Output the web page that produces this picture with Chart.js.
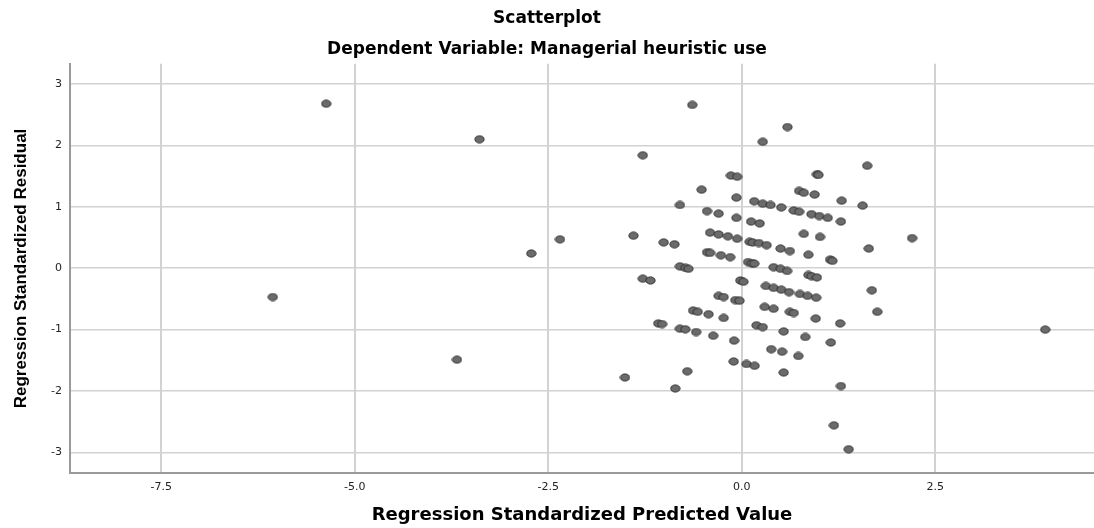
<!DOCTYPE html>
<html>
<head>
<meta charset="utf-8">
<script src="https://cdn.jsdelivr.net/npm/chart.js@4"></script>
<style>
html, body { margin: 0; padding: 0; background: #fff; }
#wrap { width: 1094px; height: 528px; }
</style>
</head>
<body>
<div id="wrap"><canvas id="scatter" width="1094" height="528"></canvas></div>
<script>
// SCATTERPLOT - standardized predicted vs residual

// x = Regression Standardized Predicted Value
const predicted = [
-6.06, -5.37, -3.68, -3.39, -2.72, -2.35, 3.92, 2.20,
-0.64, 0.59, 0.27, -1.28, -0.14, -0.06, 0.97, 0.99, -0.52, 0.74, 0.80, 0.94,
-0.07, 1.29, -0.80, 0.16, 0.27, 0.37, 0.51, 0.67, 0.74, 0.90, 1.00, 1.11,
1.28, -0.45, -0.30, -0.07, 0.12, 0.23, 0.80, 1.01, -1.40, -1.01, -0.87, -0.41,
-0.30, -0.18, -0.06, 0.10, 0.14, 0.22, 0.32, 0.50, 0.62, 0.86, 1.14, 1.17,
-0.45, -0.41, -0.27, -0.15,
-0.80, -0.73, -0.69, 0.08, 0.13, 0.16, 0.41, 0.50, 0.585, 0.86, 0.90, 0.97,
-1.28, -1.18, -0.02, 0.02, 0.31, 0.41, 0.51, 0.61, 0.75, 0.85, 0.96, -0.30,
-0.235, -0.085, -0.03, 0.295, 0.41, 0.62, 0.67, 0.955, 1.27, -0.63, -0.57, -0.43,
-0.235, -1.08, -1.03, -0.80, -0.73, -0.59, -0.37, -0.10, 0.19, 0.27, 0.54, 0.82,
1.15, 0.38, 0.52, 0.73, -0.106, 0.06, 0.165, 0.54, -0.705, -1.51, -0.86, 1.28,
1.19, 1.38,
1.62, 1.56, 1.64, 1.68, 1.75
];

// y = Regression Standardized Residual
const residual = [
-0.47, 2.68, -1.49, 2.10, 0.24, 0.47, -1.00, 0.49,
2.66, 2.30, 2.06, 1.84, 1.51, 1.49, 1.53, 1.52, 1.28, 1.26, 1.23, 1.20,
1.15, 1.10, 1.03, 1.09, 1.05, 1.03, 0.99, 0.94, 0.92, 0.88, 0.85, 0.82,
0.76, 0.93, 0.89, 0.82, 0.76, 0.73, 0.56, 0.51, 0.53, 0.42, 0.39, 0.58,
0.55, 0.52, 0.48, 0.43, 0.42, 0.41, 0.375, 0.32, 0.28, 0.22, 0.14, 0.12,
0.26, 0.25, 0.21, 0.18,
0.03, 0.005, -0.01, 0.10, 0.08, 0.075, 0.016, -0.01, -0.045, -0.11, -0.13, -0.15,
-0.17, -0.20, -0.20, -0.22, -0.29, -0.32, -0.35, -0.39, -0.42, -0.45, -0.48, -0.45,
-0.47, -0.52, -0.53, -0.63, -0.66, -0.71, -0.73, -0.82, -0.90, -0.69, -0.71, -0.75,
-0.81, -0.90, -0.91, -0.985, -0.995, -1.04, -1.10, -1.18, -0.93, -0.96, -1.03, -1.12,
-1.21, -1.32, -1.36, -1.43, -1.52, -1.56, -1.59, -1.70, -1.68, -1.78, -1.96, -1.92,
-2.56, -2.95,
1.67, 1.02, 0.32, -0.36, -0.71
];

const xTicks = [-7.5, -5.0, -2.5, 0.0, 2.5];
const yTicks = [-3, -2, -1, 0, 1, 2, 3];

const points = predicted.map((x, i) => ({ x: x, y: residual[i] }));

// slightly oval grey marker like the SPSS output
const marker = document.createElement("canvas");
marker.width = 11;
marker.height = 9;
const mctx = marker.getContext("2d");
mctx.beginPath();
mctx.ellipse(5.5, 4.5, 4.6, 3.6, 0, 0, Math.PI * 2);
mctx.fillStyle = "#6b6b6b";
mctx.fill();
mctx.lineWidth = 1;
mctx.strokeStyle = "#2e2e2e";
mctx.stroke();

const ctx = document.getElementById("scatter").getContext("2d");

new Chart(ctx, {
type: "scatter",
data: {
datasets: [{
label: "Residual",
data: points,
pointStyle: marker,
pointRadius: 5,
pointHoverRadius: 5
}]
},
options: {
responsive: false,
animation: false,
layout: { padding: 0, autoPadding: false },
plugins: {
legend: { display: false },
tooltip: { enabled: false },
title: {
display: true,
text: "Scatterplot",
color: "#000",
font: { family: "DejaVu Sans", size: 17, weight: "bold" },
padding: { top: 8, bottom: 11 }
},
subtitle: {
display: true,
text: "Dependent Variable: Managerial heuristic use",
color: "#000",
font: { family: "DejaVu Sans", size: 17, weight: "bold" },
padding: { top: 0, bottom: 4 }
}
},
scales: {
x: {
type: "linear",
min: -8.68,
max: 4.55,
afterBuildTicks: (scale) => { scale.ticks = xTicks.map(v => ({ value: v })); },
afterFit: (scale) => { scale.paddingLeft = 0; scale.paddingRight = 0; },
ticks: {
color: "#222",
font: { family: "DejaVu Sans", size: 11 },
padding: 7,
callback: (v) => Number(v).toFixed(1)
},
grid: { color: "#d2d2d2", lineWidth: 2, drawTicks: false },
border: { display: true, color: "#9a9a9a", width: 2 },
title: {
display: true,
text: "Regression Standardized Predicted Value",
color: "#000",
font: { family: "DejaVu Sans", size: 18, weight: "bold" },
padding: { top: 4, bottom: 2 }
}
},
y: {
type: "linear",
min: -3.34,
max: 3.33,
afterBuildTicks: (scale) => { scale.ticks = yTicks.map(v => ({ value: v })); },
afterFit: (scale) => { scale.width = 70; },
ticks: {
color: "#222",
font: { family: "DejaVu Sans", size: 11 },
padding: 8
},
grid: { color: "#d2d2d2", lineWidth: 1.5, drawTicks: false },
border: { display: true, color: "#9a9a9a", width: 2 },
title: {
display: true,
text: "Regression Standardized Residual",
color: "#000",
font: { family: "Liberation Sans", size: 17, weight: "bold" },
padding: { top: 11, bottom: 0 }
}
}
}
}
});
</script>
</body>
</html>
